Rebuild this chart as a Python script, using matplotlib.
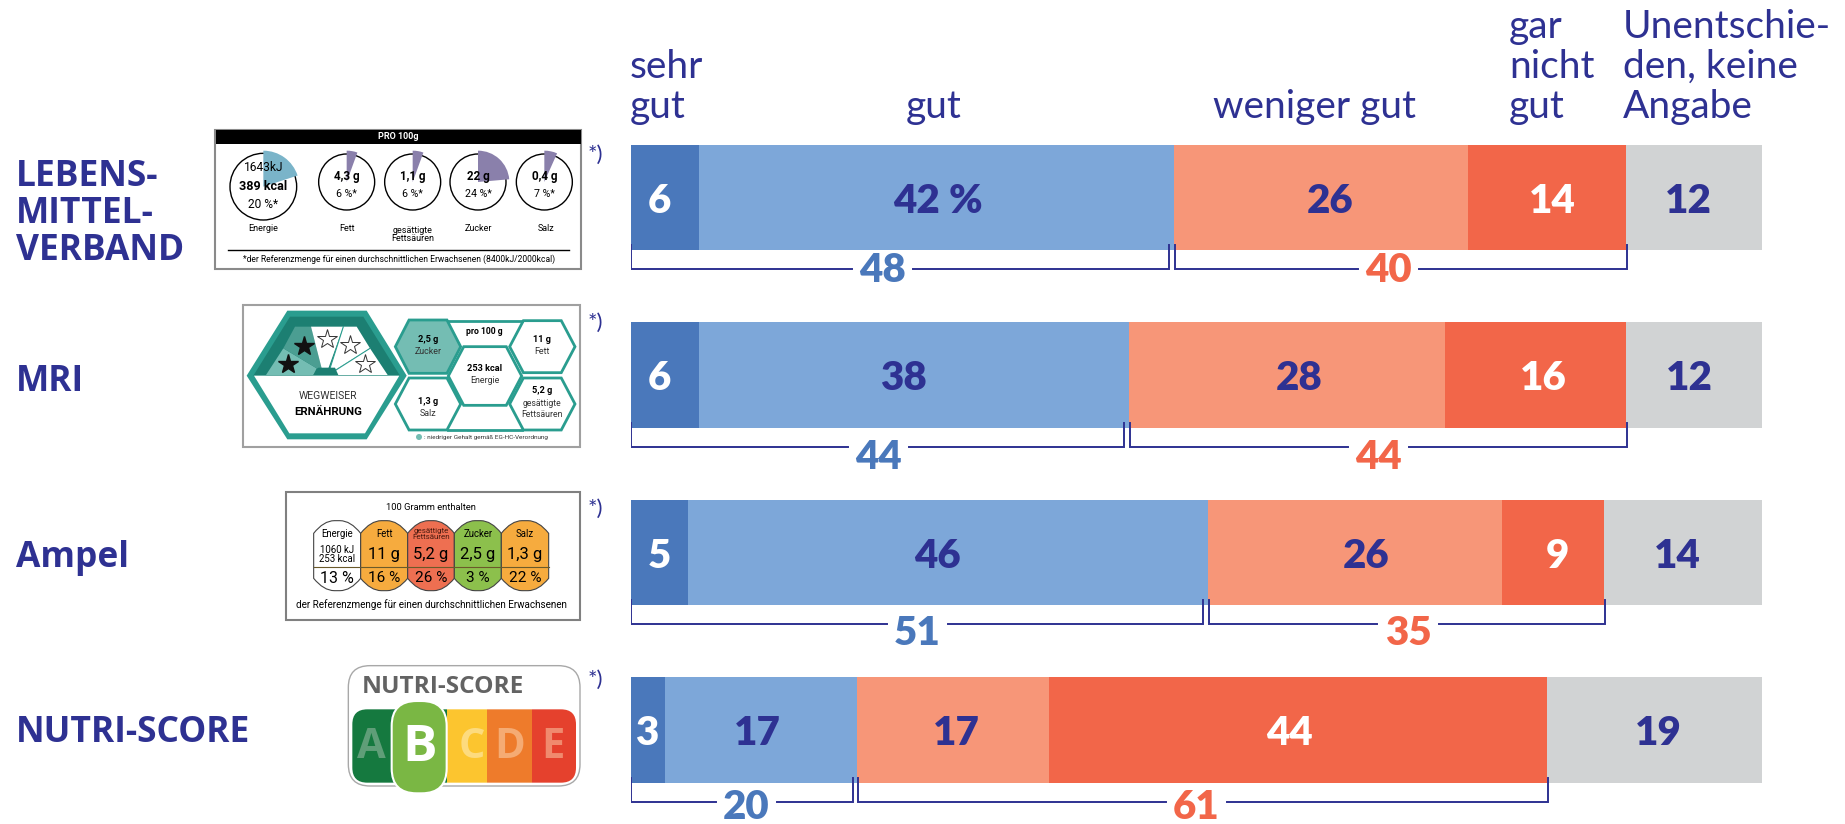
# Import libraries
import numpy as np
from matplotlib import pyplot as plt
from matplotlib.patches import Circle, Wedge, Polygon, Rectangle, FancyBboxPatch, PathPatch
from matplotlib.path import Path

'''
DATA
'''
labels = ['LEBENS-\nMITTEL-\nVERBAND', 'MRI', 'Ampel', 'NUTRI-SCORE']
sehr_gut = [6, 6, 5, 3]
gut = [42, 38, 46, 17]
weniger_gut = [26, 28, 26, 17]
gar_nicht_gut = [14, 16, 9, 44]
unentschieden = [12, 12, 14, 19]
positiv_sum = [48, 44, 51, 20]
negativ_sum = [40, 44, 35, 61]

headers = ['sehr\ngut', 'gut', 'weniger gut', 'gar\nnicht\ngut', 'Unentschie-\nden, keine\nAngabe']

# label nudges in percent units, the original has them set by hand
shift = [[-0.5, 0.1, 0.8, 0.5, -0.5],
         [-0.5, -0.9, 1.1, 0.7, -0.4],
         [0.0, -0.9, 1.0, 0.4, -0.5],
         [-0.1, -0.3, 0.3, -0.8, 0.3]]
pos_label_x = [22.2, 21.9, 25.3, 10.2]
neg_label_x = [67.0, 66.1, 68.7, 50.0]
sum_label_dy = [0.0, 0.053, 0.046, 0.027]

navy = '#2e3192'
blue = '#4a78bb'
red = '#f26649'
colors = [blue, '#7da7d9', '#f79678', red, '#d1d3d4']
text_colors = ['white', navy, navy, 'white', navy]
teal = '#2a9d8f'

W, H = 1845, 824
fig = plt.figure(figsize=(W/100, H/100), dpi=100)

'''
BARS
'''
row_step = 177.5
row0 = 197.5
ax = fig.add_axes([631/W, 0, 1131/W, 1])
ax.set_xlim(0, 100)
ax.set_ylim((H-row0)/row_step, -row0/row_step)
ax.axis('off')

series = np.array([sehr_gut, gut, weniger_gut, gar_nicht_gut, unentschieden], dtype=float)
rows = np.arange(len(labels))
left = np.zeros(len(labels))
for k in range(5):
    ax.barh(rows, series[k], left=left, height=0.593, color=colors[k], linewidth=0)
    for i in rows:
        txt = '%d' % series[k][i]
        if i == 0 and k == 1:
            txt += ' %'
        ax.text(left[i]+series[k][i]/2+shift[i][k], i+0.02, txt, color=text_colors[k], fontsize=29,
                fontweight='heavy', family='Lato', ha='center', va='center')
    left += series[k]

# brackets under the bars, the line stops either side of the number
def bracket(x0, x1, y, val, xlab, col, dy):
    ax.plot([xlab-2.7, x0, x0], [y+0.115, y+0.115, y-0.02], color=navy, lw=1.4, solid_joinstyle='miter')
    ax.plot([xlab+2.7, x1, x1], [y+0.115, y+0.115, y-0.02], color=navy, lw=1.4, solid_joinstyle='miter')
    ax.text(xlab, y+0.12+dy, '%d' % val, color=col, fontsize=29, fontweight='heavy', family='Lato', ha='center', va='center')

for i in rows:
    y = i+0.29
    bracket(0, positiv_sum[i]-0.4, y, positiv_sum[i], pos_label_x[i], blue, sum_label_dy[i])
    bracket(positiv_sum[i]+0.1, positiv_sum[i]+negativ_sum[i]+0.1, y, negativ_sum[i], neg_label_x[i], red, sum_label_dy[i])

'''
OVERLAY IN PIXELS
'''
over = fig.add_axes([0, 0, 1, 1], facecolor='none')
over.set_xlim(0, W)
over.set_ylim(H, 0)
over.axis('off')

head_x = [630, 906, 1213, 1509, 1623]
for s, x in zip(headers, head_x):
    over.text(x, 118, s, color=navy, fontsize=28, family='Lato', ha='left', va='baseline', linespacing=1.13)

label_y = [214, 382, 558, 733]
label_x = [16, 16, 16, 16]
for s, x, y in zip(labels, label_x, label_y):
    over.text(x, y, s, color=navy, fontsize=25.5, family='Open Sans', fontweight='bold', ha='left', va='center',
              linespacing=1.03)

for y in [155, 323, 509, 680]:
    over.text(588, y, '*)', color=navy, fontsize=16, family='Lato', ha='left', va='center')


def sub_axes(x, y, w, h):
    # axes where coordinates are 3x the pixel size of the figure
    a = fig.add_axes([x/W, 1-(y+h)/H, w/W, h/H], facecolor='none')
    a.set_xlim(0, w*3)
    a.set_ylim(h*3, 0)
    a.axis('off')
    return a


def put(a, x, y, s, size, weight='normal', col='black', fam='Roboto'):
    a.text(x, y, s, fontsize=size*0.24, fontweight=weight, color=col, family=fam, ha='center', va='center',
           linespacing=0.95, zorder=8)


def hexagon(a, cx, cy, hw, hh, fc='white', ec=teal, lw=2, z=2):
    inset = hw*0.42
    pts = [(cx-hw, cy), (cx-hw+inset, cy-hh), (cx+hw-inset, cy-hh), (cx+hw, cy), (cx+hw-inset, cy+hh), (cx-hw+inset, cy+hh)]
    a.add_patch(Polygon(pts, closed=True, fc=fc, ec=ec, lw=lw, zorder=z))


'''
LOGOS 1 AND 2
'''
a1 = sub_axes(200, 120, 420, 340)
a1.add_patch(Rectangle((45, 30), 1097, 418, fc='white', ec='#8a8a8a', lw=1.5))
a1.add_patch(Rectangle((47, 30), 1095, 42, fc='black', ec='none'))
put(a1, 595, 50, 'PRO 100g', 27, 'bold', 'white')

# y axis is flipped here so the wedge angles run clockwise from -90
a1.add_patch(Circle((190, 200), 100, fc='none', ec='black', lw=1, zorder=2))
a1.add_patch(Wedge((190, 200), 108, -90, -18, fc='#7ab4c9', ec='none', zorder=3))
put(a1, 190, 143, '1643kJ', 36)
put(a1, 190, 198, '389 kcal', 38, 'bold')
put(a1, 190, 254, '20 %*', 36)
put(a1, 190, 326, 'Energie', 27)

small_x = [440, 638, 834, 1033]
small_a = [20, 20, 85, 24]
small_g = ['4,3 g', '1,1 g', '22 g', '0,4 g']
small_p = ['6 %*', '6 %*', '24 %*', '7 %*']
for x, ang, g, p in zip(small_x, small_a, small_g, small_p):
    a1.add_patch(Circle((x, 186), 84, fc='none', ec='black', lw=1, zorder=2))
    a1.add_patch(Wedge((x, 186), 94, -90, -90+ang, fc='#8a80ab', ec='none', zorder=3))
    put(a1, x, 170, g, 35, 'bold')
    put(a1, x, 221, p, 32)
put(a1, 440, 326, 'Fett', 27)
put(a1, 638, 343, 'gesättigte\nFettsäuren', 27)
put(a1, 834, 326, 'Zucker', 27)
put(a1, 1038, 326, 'Salz', 27)
a1.plot([85, 1108], [390, 390], color='black', lw=1)
put(a1, 596, 418, '*der Referenzmenge für einen durchschnittlichen Erwachsenen (8400kJ/2000kcal)', 25.7)

a1.add_patch(Rectangle((130, 555), 1010, 425, fc='white', ec='#a0a0a0', lw=1.5))
a1.add_patch(Polygon([(140, 767), (262, 572), (500, 572), (620, 767), (500, 958), (262, 958)], fc=teal, ec='none', zorder=2))
a1.add_patch(Polygon([(160, 767), (270, 590), (490, 590), (600, 767)], fc='#1c7f72', ec='none', zorder=3))
a1.add_patch(Polygon([(162, 767), (598, 767), (495, 940), (268, 940)], fc='white', ec='none', zorder=3))
fan = [[(198, 765), (250, 685), (350, 745), (340, 765)],
       [(250, 685), (285, 620), (333, 620), (365, 745), (350, 745)],
       [(333, 620), (430, 620), (385, 745), (365, 745)],
       [(430, 620), (470, 620), (510, 685), (405, 750), (390, 745)],
       [(510, 685), (563, 765), (410, 765), (405, 750)]]
fan_c = ['#74bdb3', '#4b9e92', 'white', 'white', 'white']
for pts, c in zip(fan, fan_c):
    a1.add_patch(Polygon(pts, fc=c, ec='none', zorder=4))
a1.plot([430, 390], [620, 745], color=teal, lw=0.8, zorder=5)
a1.plot([510, 408], [685, 750], color=teal, lw=0.8, zorder=5)
a1.add_patch(Polygon([(340, 765), (355, 743), (405, 743), (415, 765)], fc='#1c7f72', ec='none', zorder=5))
a1.plot([265, 311], [732, 677], ls='none', marker='*', ms=15, color='#111111', zorder=6)
a1.plot([381, 451, 495], [656, 675, 732], ls='none', marker='*', ms=15, mfc='white', mec='#333333', mew=0.7, zorder=6)
a1.text(385, 827, 'WEGWEISER', fontsize=7.5, family='Roboto', ha='center', va='center', zorder=6, color='#333333')
a1.text(385, 875, 'ERNÄHRUNG', fontsize=8.2, family='Roboto', fontweight='bold', ha='center', va='center', zorder=6)

hexagon(a1, 684, 680, 98, 80, fc='#74bdb3')
hexagon(a1, 1027, 680, 98, 78)
hexagon(a1, 684, 852, 98, 78)
hexagon(a1, 1027, 852, 98, 78)
hexagon(a1, 855, 768, 110, 88, z=3)
a1.plot([745, 965], [603, 603], color=teal, lw=2)
a1.plot([745, 965], [930, 930], color=teal, lw=2)
put(a1, 853, 636, 'pro 100 g', 26, 'bold')
for x, y, a, b in [(684, 675, '2,5 g', 'Zucker'), (1027, 675, '11 g', 'Fett'), (684, 860, '1,3 g', 'Salz'), (855, 762, '253 kcal', 'Energie')]:
    a1.text(x, y-17, a, fontsize=6.6, fontweight='bold', family='Roboto', ha='center', va='center', zorder=4)
    a1.text(x, y+19, b, fontsize=6.4, family='Roboto', ha='center', va='center', zorder=4, color='#333333')
a1.text(1027, 812, '5,2 g', fontsize=6.6, fontweight='bold', family='Roboto', ha='center', va='center', zorder=4)
a1.text(1025, 867, 'gesättigte\nFettsäuren', fontsize=6.2, family='Roboto', ha='center', va='center', zorder=4, color='#333333')
a1.add_patch(Circle((657, 951), 9, fc='#74bdb3', ec='none'))
a1.text(672, 951, ': niedriger Gehalt gemäß EG-HC-Verordnung', fontsize=4.6, family='Roboto', ha='left', va='center', color='#333333')

'''
LOGOS 3 AND 4
'''
a2 = sub_axes(270, 480, 350, 344)
a2.add_patch(Rectangle((47, 36), 883, 384, fc='white', ec='#808080', lw=1.5))
put(a2, 484, 83, '100 Gramm enthalten', 28)

col_x = [131, 272, 413, 553, 694, 836]
col_c = ['white', '#f6ab3e', '#ee6f51', '#8cc04c', '#f6ab3e']
for j in range(5):
    x0, x1 = col_x[j], col_x[j+1]
    verts = [(x0, 160), (x0+30, 122), (x0+62, 122), (x1-62, 122), (x1-30, 122), (x1, 160),
             (x1, 295), (x1-30, 332), (x1-62, 332), (x0+62, 332), (x0+30, 332), (x0, 295), (x0, 160)]
    codes = [Path.MOVETO, Path.CURVE3, Path.CURVE3, Path.LINETO, Path.CURVE3, Path.CURVE3,
             Path.LINETO, Path.CURVE3, Path.CURVE3, Path.LINETO, Path.CURVE3, Path.CURVE3, Path.CLOSEPOLY]
    a2.add_patch(PathPatch(Path(verts, codes), fc=col_c[j], ec='#444444', lw=0.8))
a2.plot([131, 836], [262, 262], color='#6b5a2a', lw=0.8)

put(a2, 202, 163, 'Energie', 29)
put(a2, 202, 224, '1060 kJ\n253 kcal', 29)
put(a2, 202, 295, '13 %', 48)
col_head = ['Fett', None, 'Zucker', 'Salz']
col_g = ['11 g', '5,2 g', '2,5 g', '1,3 g']
col_p = ['16 %', '26 %', '3 %', '22 %']
for j in range(4):
    cx = (col_x[j+1]+col_x[j+2])/2
    if col_head[j]:
        put(a2, cx, 163, col_head[j], 29)
    put(a2, cx, 225, col_g[j], 50)
    put(a2, cx, 295, col_p[j], 46)
put(a2, 484, 163, 'gesättigte\nFettsäuren', 24, col='#4a1a10')
put(a2, 484, 375, 'der Referenzmenge für einen durchschnittlichen Erwachsenen', 29.5)

# nutri score logo
a2.add_patch(FancyBboxPatch((275, 597), 615, 281, boxstyle='round,pad=40,rounding_size=65', fc='white', ec='#a8a8a8', lw=1))
put(a2, 519, 622, 'NUTRI-SCORE', 73, 'bold', '#636363', 'Open Sans')

band = FancyBboxPatch((287, 728), 591, 140, boxstyle='round,pad=40,rounding_size=45', fc='none', ec='none')
a2.add_patch(band)
band_x = [247, 400, 530, 651, 785, 918]
band_c = ['#15793f', '#15793f', '#fcc52f', '#ee7b2b', '#e5412d']
for j in range(5):
    r = Rectangle((band_x[j], 688), band_x[j+1]-band_x[j], 220, fc=band_c[j], ec='none', zorder=2)
    a2.add_patch(r)
    r.set_clip_path(band)

a2.add_patch(FancyBboxPatch((395, 693), 105, 217, boxstyle='round,pad=30,rounding_size=75', fc='#7ab744', ec='white', lw=1.5, zorder=3))
for x, s, c in [(304, 'A', '#5f9e78'), (606, 'C', '#fddb7e'), (718, 'D', '#f5ab73'), (850, 'E', '#f08a6e')]:
    a2.text(x, 802, s, fontsize=30, fontweight='bold', family='Open Sans', color=c, ha='center', va='center', zorder=4)
a2.text(450, 805, 'B', fontsize=37, fontweight='bold', family='Open Sans', color='white', ha='center', va='center', zorder=4)

fig.savefig('out.png', dpi=100)
